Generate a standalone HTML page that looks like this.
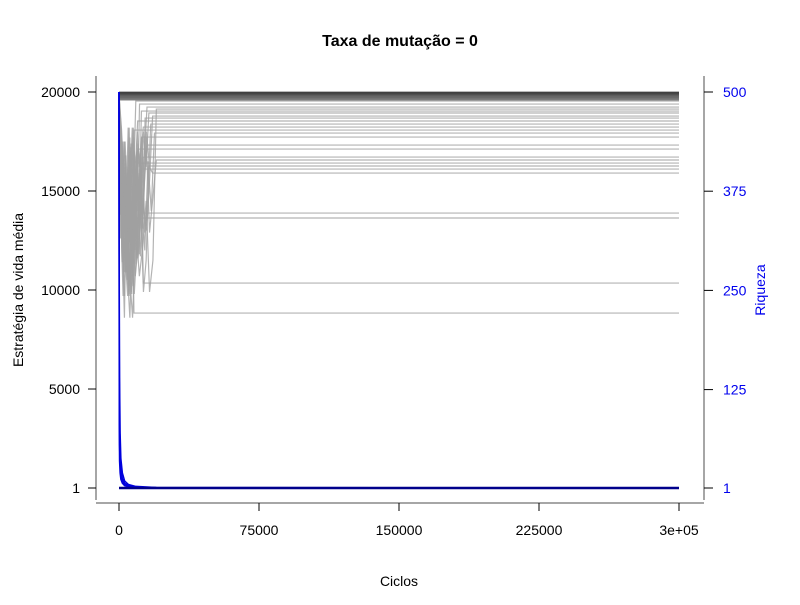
<!DOCTYPE html>
<html><head><meta charset="utf-8"><style>
body{margin:0;background:#fff}
svg text{font-family:"Liberation Sans",sans-serif}
</style></head><body>
<svg id="c" width="800" height="600" xmlns="http://www.w3.org/2000/svg">
<rect width="800" height="600" fill="#fff"/>
<text x="400" y="46" text-anchor="middle" font-size="16" font-weight="bold">Taxa de mutação = 0</text>
<text x="399" y="586" text-anchor="middle" font-size="14">Ciclos</text>
<text transform="translate(23,290) rotate(-90)" text-anchor="middle" font-size="14">Estratégia de vida média</text>
<text transform="translate(765,290) rotate(-90)" text-anchor="middle" font-size="14" fill="#0000ee">Riqueza</text>
<g id="grey"></g>
<g id="blue"></g>
<g id="axes"></g>
</svg>
<script>
const xTicks=[0,75000,150000,225000,300000];
const xTickLabels=["0","75000","150000","225000","3e+05"];
const yTicks=[1,5000,10000,15000,20000];
const yTickLabels=["1","5000","10000","15000","20000"];
const rTicks=[1,125,250,375,500];
const rTickLabels=["1","125","250","375","500"];
const finals=[19990,19960,19930,19900,19870,19840,19800,19760,19720,19680,19640,19600,19543,19392,19240,19139,19038,18938,18786,18685,18534,18382,18230,18079,17927,17725,17321,17119,16715,16564,16412,16261,16109,15907,13887,13635,10352,8837];
const endCycles=[1500,2000,2500,3000,3500,4000,4500,5000,5500,6000,7000,8000,9000,11000,15000,20000,12000,16000,18000,14000,10000,17000,13000,8000,19000,12000,15000,10000,14000,20000,9000,16000,11000,18000,12000,9000,13000,8000];
const transient=[
 [19500,16000,12500,14800,11000,13500,17200,15000,12000,16500,14000],
 [19000,14500,17500,12800,10500,13900,15800,11700,14600,18000,16200],
 [19800,17200,13300,15600,11900,9800,12600,16900,14200,13000,15500],
 [18800,15200,11400,13700,16800,12300,10200,14900,17400,15700,13800],
 [19600,13800,16400,10900,12700,15300,18200,14100,11600,13400,16700],
 [19200,16600,12100,9700,14400,11300,15900,13100,17700,12900,14700],
 [19900,18100,15400,13600,16200,12400,14300,17000,11800,15100,16900],
 [19400,12600,15700,11100,8600,13200,10700,12200,14500,9900,11500]];
const richT=[0,150,300,600,1000,1800,3000,5000,9000,20000,300000];
const rich=[[500,120,55,30,17,9,5,3,1.8,1.2,1],[500,180,90,45,25,13,7,4,2.3,1.4,1],[500,80,35,20,12,7,4,2.5,1.6,1.1,1],[500,250,140,70,38,20,10,5.5,3,1.6,1]];
const X=v=>119+v/300000*560, Y=v=>488-(v-1)/19999*396, R=v=>488-(v-1)/499*396;
const ns="http://www.w3.org/2000/svg";
function mk(t,a,p){const e=document.createElementNS(ns,t);for(const k in a)e.setAttribute(k,a[k]);p.appendChild(e);return e;}
const g=document.getElementById('grey');
finals.forEach((f,i)=>{
  const tr=transient[i%transient.length];const end=endCycles[i];
  let pts=[];
  if(i>=12){tr.forEach((v,j)=>pts.push([X(end*j/tr.length),Y(v)]));}
  else pts.push([X(0),Y(f)]);
  pts.push([X(end),Y(f)]);pts.push([X(300000),Y(f)]);
  const c=Math.round(0x33+Math.min(i,20)*6);
  const shade='rgb('+c+','+c+','+c+')';
  const p=mk('polyline',{points:pts.map(q=>q.join(',')).join(' '),fill:'none',stroke:i<12?shade:'#a0a0a0','stroke-width':1.2,'stroke-opacity':i<12?0.9:0.8},g);
  
  
});
const b=document.getElementById('blue');
rich.forEach(s=>{
  const p=mk('polyline',{points:s.map((v,j)=>X(richT[j])+','+R(v)).join(' '),fill:'none',stroke:'#0000dd','stroke-width':1.5},b);
  
  
});
mk('line',{x1:X(0),y1:R(1),x2:X(300000),y2:R(1),stroke:'#00008b','stroke-width':2.5},b);
const a=document.getElementById('axes');
mk('line',{x1:96,y1:76,x2:96,y2:500,stroke:'#888','stroke-width':1.5},a);
mk('line',{x1:96,y1:503,x2:704,y2:503,stroke:'#888','stroke-width':1.5},a);
mk('line',{x1:704,y1:76,x2:704,y2:500,stroke:'#888','stroke-width':1.5},a);
xTicks.forEach((v,i)=>{mk('line',{x1:X(v),y1:503,x2:X(v),y2:511,stroke:'#000'},a);
  const t=mk('text',{x:X(v),y:535,'text-anchor':'middle','font-size':14},a);t.textContent=xTickLabels[i];
  });
yTicks.forEach((v,i)=>{mk('line',{x1:88,y1:Y(v),x2:96,y2:Y(v),stroke:'#000'},a);
  const t=mk('text',{x:80,y:Y(v)+5,'text-anchor':'end','font-size':14},a);t.textContent=yTickLabels[i];
  });
rTicks.forEach((v,i)=>{mk('line',{x1:704,y1:R(v),x2:713,y2:R(v),stroke:'#000'},a);
  const t=mk('text',{x:723,y:R(v)+5,'font-size':14,fill:'#0000ee'},a);t.textContent=rTickLabels[i];
  });
</script>
</body></html>
